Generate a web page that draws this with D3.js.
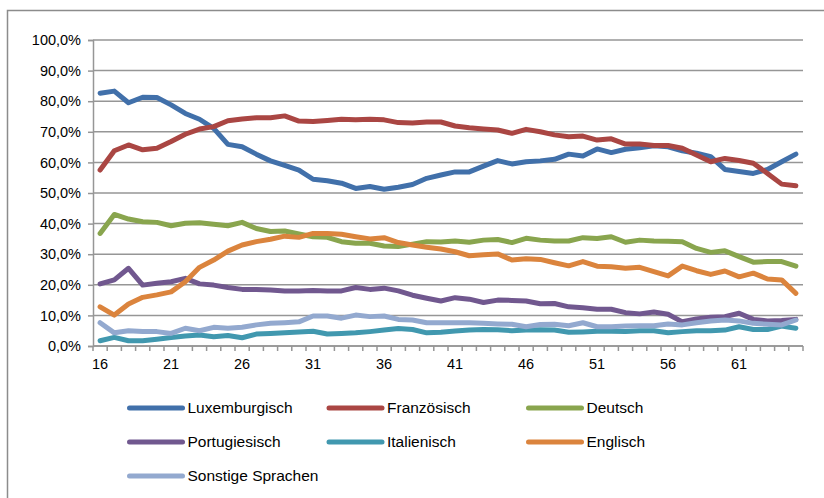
<!DOCTYPE html>
<html>
<head>
<meta charset="utf-8">
<script src="https://cdn.jsdelivr.net/npm/d3@7"></script>
<style>
  body { margin: 0; background: #fff; }
  text { font-family: "Liberation Sans", Arial, sans-serif; fill: #000; }
</style>
</head>
<body>
<div id="chart"></div>
<script>
// ages on the category axis
const ages = d3.range(16, 66);
const tickAges = [16, 21, 26, 31, 36, 41, 46, 51, 56, 61];
const yTicks = [0, 10, 20, 30, 40, 50, 60, 70, 80, 90, 100];

const names = ["Luxemburgisch", "Französisch", "Deutsch", "Portugiesisch", "Italienisch", "Englisch", "Sonstige Sprachen"];
const colors = ["#4170AA", "#AA4643", "#89A54E", "#71588F", "#4198AF", "#DB843D", "#93A9CF"];

const luxemburgisch = [82.6,83.3,79.5,81.3,81.2,78.8,76.0,74.1,71.1,65.9,65.1,62.7,60.5,59.0,57.5,54.5,54.0,53.2,51.5,52.1,51.2,51.9,52.8,54.8,55.9,56.9,56.9,58.8,60.6,59.5,60.2,60.5,61.0,62.7,62.1,64.4,63.2,64.3,64.8,65.4,65.1,63.8,63.0,61.9,57.7,57.0,56.4,57.7,60.2,62.7];
const franzoesisch = [57.5,63.8,65.7,64.1,64.6,66.8,69.2,70.9,71.7,73.6,74.2,74.6,74.6,75.2,73.5,73.4,73.7,74.1,73.9,74.1,73.9,73.0,72.9,73.2,73.2,71.9,71.3,70.9,70.6,69.5,70.8,70.0,69.0,68.4,68.6,67.3,67.7,66.0,66.0,65.5,65.5,64.6,62.4,60.2,61.3,60.6,59.7,56.4,52.9,52.4];
const deutsch = [36.8,43.0,41.5,40.6,40.4,39.3,40.1,40.3,39.8,39.3,40.4,38.4,37.4,37.6,36.6,35.7,35.5,34.1,33.6,33.6,32.7,32.5,33.3,34.1,34.0,34.3,33.9,34.6,34.8,33.8,35.2,34.6,34.3,34.3,35.4,35.1,35.7,33.9,34.6,34.3,34.2,34.1,31.9,30.6,31.1,29.2,27.4,27.6,27.6,26.1];
const portugiesisch = [20.3,21.6,25.4,19.9,20.5,21.0,22.1,20.3,19.9,19.1,18.5,18.5,18.3,18.0,18.0,18.1,18.0,18.0,19.1,18.5,18.9,18.0,16.6,15.6,14.7,15.8,15.3,14.2,15.0,14.9,14.7,13.8,13.9,12.8,12.5,12.0,12.0,10.9,10.5,11.1,10.4,7.9,8.8,9.4,9.6,10.7,8.7,8.2,8.3,8.7];
const italienisch = [1.7,2.8,1.7,1.7,2.2,2.8,3.3,3.6,3.0,3.4,2.7,3.9,4.1,4.3,4.6,4.8,3.9,4.1,4.3,4.7,5.2,5.7,5.4,4.3,4.5,4.9,5.2,5.4,5.3,5.0,5.2,5.3,5.2,4.5,4.6,4.8,4.8,4.7,5.0,5.0,4.3,4.7,5.0,5.0,5.2,6.3,5.4,5.4,6.5,5.8];
const englisch = [12.8,10.1,13.7,15.9,16.7,17.7,21.0,25.7,28.1,31.0,33.0,34.1,34.9,35.9,35.5,36.8,36.8,36.5,35.7,35.0,35.4,33.8,33.0,32.3,31.7,30.8,29.5,29.8,30.1,28.1,28.5,28.3,27.2,26.2,27.6,26.1,25.9,25.4,25.7,24.3,22.9,26.1,24.6,23.4,24.5,22.6,23.8,21.9,21.6,17.2];
const sonstige = [7.6,4.3,5.0,4.7,4.7,4.1,5.8,5.0,6.1,5.8,6.1,6.9,7.4,7.6,7.9,9.8,9.8,9.1,10.1,9.6,9.8,8.7,8.5,7.6,7.6,7.6,7.6,7.4,7.2,7.1,6.3,7.0,7.1,6.6,7.6,6.3,6.3,6.5,6.6,6.6,7.2,6.9,7.6,8.2,8.5,8.2,7.4,7.1,6.9,8.5];

const seriesValues = [luxemburgisch, franzoesisch, deutsch, portugiesisch, italienisch, englisch, sonstige];

const W = 824, H = 498;
const plot = {left: 93, top: 40, right: 803, bottom: 346};

const svg = d3.select("#chart").append("svg")
    .attr("width", W)
    .attr("height", H);

// outer frame
svg.append("rect")
    .attr("x", 7.5).attr("y", 10.5)
    .attr("width", 830).attr("height", 500)
    .attr("fill", "none")
    .attr("stroke", "#8c8c8c")
    .attr("stroke-width", 1.5);

const x = d3.scaleBand()
    .domain(ages)
    .range([plot.left, plot.right]);

const y = d3.scaleLinear()
    .domain([0, 100])
    .range([plot.bottom, plot.top]);

// gridlines
svg.append("g")
    .selectAll("line")
    .data(yTicks)
    .join("line")
        .attr("x1", plot.left)
        .attr("x2", plot.right)
        .attr("y1", d => y(d))
        .attr("y2", d => y(d))
        .attr("stroke", "#969696")
        .attr("stroke-width", 1.5);

// y axis
const yAxis = svg.append("g")
    .attr("transform", `translate(${plot.left},0)`)
    .call(d3.axisLeft(y).tickValues(yTicks).tickSize(5).tickPadding(7)
        .tickFormat(d => d3.format(".1f")(d).replace(".", ",") + "%"));
yAxis.select(".domain").attr("stroke", "#969696").attr("stroke-width", 1.5);
yAxis.selectAll(".tick line").attr("stroke", "#969696").attr("stroke-width", 1.5);
yAxis.selectAll("text").style("font-size", "14.5px").attr("fill", "#000");

// x axis: ticks at every category boundary, labels every fifth age
const xg = svg.append("g")
    .attr("transform", `translate(0,${plot.bottom})`);
xg.append("line")
    .attr("x1", plot.left).attr("x2", plot.right)
    .attr("stroke", "#969696").attr("stroke-width", 1.5);
xg.selectAll(".tk")
    .data(ages.concat([66]))
    .join("line")
        .attr("class", "tk")
        .attr("x1", d => d === 66 ? plot.right : x(d))
        .attr("x2", d => d === 66 ? plot.right : x(d))
        .attr("y1", 0).attr("y2", 5)
        .attr("stroke", "#969696").attr("stroke-width", 1.5);
xg.selectAll("text")
    .data(tickAges)
    .join("text")
        .attr("x", d => x(d) + x.bandwidth() / 2)
        .attr("y", 23)
        .attr("text-anchor", "middle")
        .style("font-size", "14.5px")
        .text(d => d);

// lines
const line = d3.line()
    .x((d, i) => x(ages[i]) + x.bandwidth() / 2)
    .y(d => y(d));

svg.append("g")
    .selectAll("path")
    .data(seriesValues)
    .join("path")
        .attr("d", d => line(d))
        .attr("fill", "none")
        .attr("stroke", (d, i) => colors[i])
        .attr("stroke-width", 5)
        .attr("stroke-linejoin", "round")
        .attr("stroke-linecap", "round");

// legend
const legend = svg.append("g")
    .selectAll("g")
    .data(names)
    .join("g")
        .attr("transform", (d, i) => `translate(${129.5 + (i % 3) * 199.5},${408 + Math.floor(i / 3) * 34})`);
legend.append("line")
    .attr("x1", 0).attr("x2", 53)
    .attr("stroke", (d, i) => colors[i])
    .attr("stroke-width", 5)
    .attr("stroke-linecap", "round");
legend.append("text")
    .attr("x", 58)
    .attr("dy", "0.35em")
    .style("font-size", "15.5px")
    .text(d => d);
</script>
</body>
</html>
